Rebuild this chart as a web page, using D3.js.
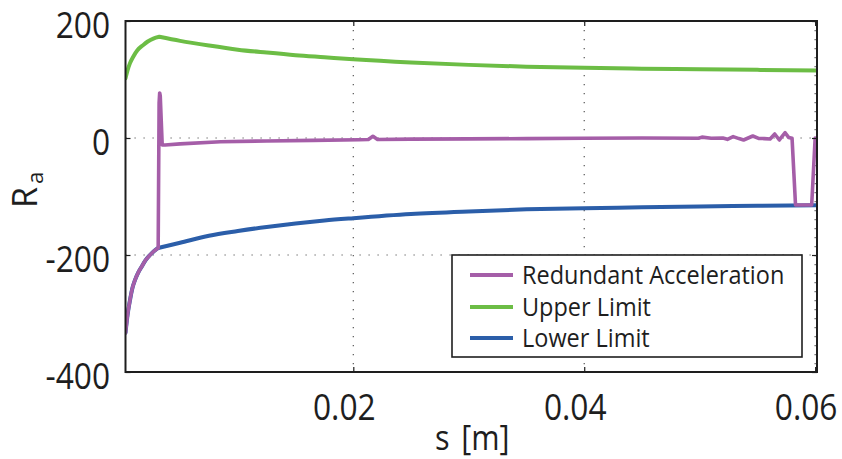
<!DOCTYPE html>
<html><head><meta charset="utf-8">
<script src="https://cdn.jsdelivr.net/npm/d3@7"></script>
<style>
html,body{margin:0;padding:0;background:#fff;}
svg{display:block;font-family:"Open Sans",sans-serif;}
</style></head><body>
<svg id="chart" width="842" height="459"></svg>
<script>
// ---- data ----
const xTicks = [0.02, 0.04, 0.06];
const xTickLabels = ["0.02", "0.04", "0.06"];
const yTicks = [200, 0, -200, -400];
const yTickLabels = ["200", "0", "-200", "-400"];
const seriesNames = ["Redundant Acceleration", "Upper Limit", "Lower Limit"];
const seriesColors = ["#a55ea8", "#6cbd45", "#2b5ea9"];

const upperS = [0.00027,0.00045,0.00066,0.00094,0.0013,0.00181,0.0022,0.00268,0.0032,0.005,0.0075,0.01,0.0125,0.015,0.0175,0.02,0.025,0.03,0.035,0.04,0.045,0.05,0.055,0.0602];
const upperV = [102,116,128,139,150,159,165,170,173,166,158,151,146,141.5,138,134.5,129,125,122,120,118.5,117.5,116.5,115.5];

const lowerS = [0.00027,0.00045,0.00066,0.00085,0.00109,0.00135,0.00167,0.002,0.00239,0.0027,0.0031,0.005,0.0075,0.01,0.0125,0.015,0.0175,0.02,0.025,0.03,0.035,0.04,0.045,0.05,0.055,0.0602];
const lowerV = [-333,-302,-277,-258,-243,-231,-220,-209,-200,-194,-188,-179,-167,-159,-152,-146,-141,-137,-130,-125.5,-122,-120,-118.5,-117,-116,-115];

const accelS = [0.00027,0.00045,0.00066,0.00085,0.00109,0.00135,0.00167,0.002,0.00239,0.0027,0.0031,0.00318,0.00323,0.00328,0.00345,0.0037,0.005,0.0085,0.0125,0.0165,0.0205,0.0213,0.0217,0.0221,0.025,0.03,0.035,0.04,0.045,0.0499,0.0502,0.051,0.052,0.0524,0.0529,0.0534,0.0538,0.0542,0.0546,0.0551,0.0556,0.0561,0.0565,0.0569,0.0574,0.0577,0.058,0.0583,0.0597,0.06];
const accelV = [-333,-302,-277,-258,-243,-231,-220,-209,-200,-194,-188,60,77,72,-12,-12,-10,-6.5,-5,-4,-3,-2.5,3,-2.5,-2,-1.5,-1,-0.5,0,-0.5,1.5,-0.5,0,-2.3,2.3,-1,-3.4,0,3.4,-0.6,-1,-1.7,6.8,-3.4,9,1,-0.5,-114.5,-114.5,0];

// ---- layout ----
const L = 125.5, R = 817, T = 21, B = 372;
const svg = d3.select("#chart");
const x = d3.scaleLinear().domain([0.00027, 0.06016]).range([L, R]);
const y = d3.scaleLinear().domain([-400, 200]).range([B, T]);
const ink = "#1e1e1e";

svg.append("defs").append("clipPath").attr("id","plotclip")
  .append("rect").attr("x",L).attr("y",T).attr("width",R-L).attr("height",B-T);

// grid (dotted)
const grid = svg.append("g").attr("stroke","#555").attr("stroke-width",1.2).attr("stroke-dasharray","1.2,7.8");
grid.selectAll("line.gx").data(xTicks).join("line").attr("class","gx")
  .attr("x1",d=>x(d)).attr("x2",d=>x(d)).attr("y1",T).attr("y2",B);
grid.selectAll("line.gy").data(yTicks.filter(d=>d>-400 && d<200)).join("line").attr("class","gy")
  .attr("x1",L).attr("x2",R).attr("y1",d=>y(d)).attr("y2",d=>y(d));

// series: smooth pieces joined at sharp corners (the kink at the spike)
const smooth = d3.line().x(d=>x(d[0])).y(d=>y(d[1])).curve(d3.curveMonotoneX);
const straight = d3.line().x(d=>x(d[0])).y(d=>y(d[1]));
function piecewise(S, V, cut, smoothRight) {
  const pts = d3.zip(S, V);
  const left = pts.slice(0, cut + 1), right = pts.slice(cut);
  return smooth(left) + (smoothRight ? smooth(right) : straight(right));
}
const cutIdx = (S, s) => S.indexOf(s);
const plot = svg.append("g").attr("clip-path","url(#plotclip)")
  .attr("fill","none").attr("stroke-linejoin","round").attr("stroke-linecap","round");
plot.append("path").attr("d", piecewise(lowerS, lowerV, cutIdx(lowerS, 0.0031), true))
  .attr("stroke", seriesColors[2]).attr("stroke-width", 4);
plot.append("path").attr("d", piecewise(upperS, upperV, cutIdx(upperS, 0.0032), true))
  .attr("stroke", seriesColors[1]).attr("stroke-width", 4);
plot.append("path").attr("d", piecewise(accelS, accelV, cutIdx(accelS, 0.0031), false))
  .attr("stroke", seriesColors[0]).attr("stroke-width", 3.6);

// axes
const tickScale = "scale(0.88,1)";
const gl = svg.append("g").attr("transform",`translate(${L},0)`)
  .call(d3.axisLeft(y).tickValues(yTicks).tickSize(-5).tickPadding(15.5).tickFormat((d,i)=>yTickLabels[i]));
gl.selectAll(".tick text").attr("x",null).attr("dy",null)
  .attr("transform",`translate(-15.5,16) ${tickScale}`).attr("text-anchor","end");
const gb = svg.append("g").attr("transform",`translate(0,${B})`)
  .call(d3.axisBottom(x).tickValues(xTicks).tickSize(-5).tickFormat((d,i)=>xTickLabels[i]));
gb.selectAll(".tick text").attr("y",null).attr("dy",null)
  .attr("transform",`translate(-9.5,48) ${tickScale}`).attr("text-anchor","middle");
const gt = svg.append("g").attr("transform",`translate(0,${T})`)
  .call(d3.axisTop(x).tickValues(xTicks).tickSize(-5).tickFormat(""));
const gr = svg.append("g").attr("transform",`translate(${R},0)`)
  .call(d3.axisRight(y).tickValues(yTicks).tickSize(-5).tickFormat(""));
[gl,gb,gt,gr].forEach(g=>{
  g.attr("font-family",null).attr("font-size",null);
  g.select(".domain").remove();
  g.selectAll(".tick line").attr("stroke",ink).attr("stroke-width",1.2);
  g.selectAll(".tick text").attr("fill",ink).attr("font-size",36);
});

// box
svg.append("rect").attr("x",L).attr("y",T).attr("width",R-L).attr("height",B-T)
  .attr("fill","none").attr("stroke",ink).attr("stroke-width",2);

// axis titles
svg.append("text").attr("transform","translate(435,450) scale(0.9,1)").attr("fill",ink).attr("font-size",34)
  .call(t=>{ t.append("tspan").text("s"); t.append("tspan").attr("dx",13).text("[m]"); });
svg.append("text").attr("transform","translate(37,208) rotate(-90)").attr("fill",ink).attr("font-size",34)
  .call(t=>{ t.append("tspan").text("R"); t.append("tspan").attr("dx",3).attr("dy",6).attr("font-size",22).text("a"); });

// legend
const lg = svg.append("g");
lg.append("rect").attr("x",452).attr("y",255).attr("width",350).attr("height",102)
  .attr("fill","#fff").attr("stroke",ink).attr("stroke-width",1.6);
const rowsY = [284, 316, 347];
seriesNames.forEach((n,i)=>{
  lg.append("line").attr("x1",470).attr("x2",513).attr("y1",rowsY[i]-9).attr("y2",rowsY[i]-9)
    .attr("stroke",seriesColors[i]).attr("stroke-width",4);
  lg.append("text").attr("transform",`translate(522,${rowsY[i]}) scale(0.94,1)`)
    .attr("fill",ink).attr("font-size",25).text(n);
});
</script>
</body></html>
